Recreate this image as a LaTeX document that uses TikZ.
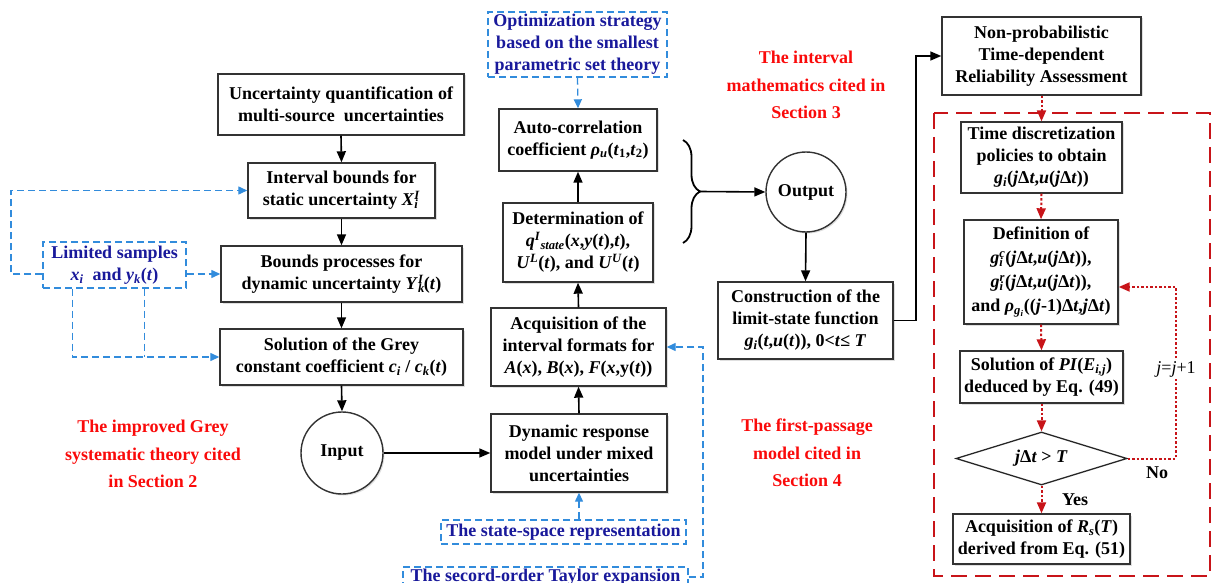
\documentclass[tikz,border=0pt]{standalone}
\usepackage{fontspec}
\setmainfont{Liberation Serif}
\usetikzlibrary{arrows.meta,shapes.geometric,decorations.pathreplacing,shadows,calc}
\definecolor{navy}{RGB}{25,25,155}
\definecolor{lblue}{RGB}{50,140,220}
\definecolor{rtext}{RGB}{250,10,10}
\definecolor{dred}{RGB}{200,20,25}
\newcommand{\iv}[1]{\textit{#1}}
\newcommand{\sbsp}[3]{\textit{#1}\rlap{\textsubscript{\textit{#2}}}\textsuperscript{\textit{#3}}}
\begin{document}
\begin{tikzpicture}[x=1pt,y=-1pt,
  every node/.style={font=\fontsize{18}{22}\selectfont\bfseries, align=center, inner sep=0pt},
  box/.style={draw=black!80, line width=1.4pt, fill=white,
    drop shadow={shadow xshift=1.5pt,shadow yshift=-1.5pt,opacity=0.25}},
  circ/.style={box, circle},
  bluebox/.style={draw=lblue, line width=1.3pt, dash pattern=on 7pt off 4pt, text=navy, fill=white},
  redlabel/.style={text=rtext, font=\fontsize{18}{27.5}\selectfont\bfseries},
  blk/.style={draw=black, line width=1.6pt, -{Triangle[length=11pt,width=9pt]}},
  bluearr/.style={draw=lblue, line width=1.3pt, dash pattern=on 7pt off 4pt, -{Triangle[length=9pt,width=8pt]}},
  bluedash/.style={draw=lblue, line width=1.3pt, dash pattern=on 7pt off 4pt},
  reddot/.style={draw=dred, line width=2pt, dash pattern=on 2.5pt off 2pt, -{Triangle[length=11pt,width=9pt]}},
  framebox/.style={draw=dred, line width=2.2pt, dash pattern=on 16pt off 8pt}
]
\useasboundingbox (0,0) rectangle (1211,583);

% red dashed frame
\draw[framebox] (934,113) rectangle (1210,576);

% left column
\node[box, minimum width=246, minimum height=61] (b1) at (341,104.5)
  {Uncertainty quantification of\\multi-source\ \ uncertainties};
\node[box, minimum width=187, minimum height=55] (b2) at (341.5,190.5)
  {Interval bounds for\\static uncertainty \sbsp{X}{i}{I}};
\node[box, minimum width=241, minimum height=56] (b3) at (341.5,274)
  {Bounds processes for\\dynamic uncertainty \sbsp{Y}{k}{I}(\iv{t})};
\node[box, minimum width=243, minimum height=56] (b4) at (341.5,357)
  {Solution of the Grey\\constant coefficient \iv{c}\textsubscript{\iv{i}} / \iv{c}\textsubscript{\iv{k}}(\iv{t})};
\node[circ, minimum size=82] (input) at (342,453) {Input};
\node[bluebox, minimum width=143, minimum height=46] (lim) at (114.5,265)
  {Limited samples\\\iv{x}\textsubscript{\iv{i}}\ \ and \iv{y}\textsubscript{\iv{k}}(\iv{t})};

% middle column
\node[bluebox, minimum width=179, minimum height=65] (opt) at (577.5,44.5)
  {Optimization strategy\\based on the smallest\\parametric set theory};
\node[box, minimum width=158, minimum height=62] (auto) at (578,140)
  {Auto-correlation\\coefficient \iv{ρ}\textsubscript{\iv{u}}(\iv{t}\textsubscript{1},\iv{t}\textsubscript{2})};
\node[box, minimum width=150, minimum height=79] (det) at (578,242.5)
  {Determination of\\\iv{q}\textsuperscript{\iv{I}}\textsubscript{\iv{state}}(\iv{x},\iv{y}(\iv{t}),\iv{t}),\\\iv{U}\textsuperscript{\iv{L}}(\iv{t}), and \iv{U}\textsuperscript{\iv{U}}(\iv{t})};
\node[box, minimum width=175, minimum height=78] (acq) at (578.5,347)
  {Acquisition of the\\interval formats for\\\iv{A}(\iv{x}), \iv{B}(\iv{x}), \iv{F}(\iv{x},y(\iv{t}))};
\node[box, minimum width=176, minimum height=78] (dyn) at (579,453)
  {Dynamic response\\model under mixed\\uncertainties};
\node[bluebox, minimum width=245, minimum height=24] (ssr) at (563.5,532)
  {The state-space representation};
\node[bluebox, minimum width=285, minimum height=20] (tay) at (545.5,577)
  {The secord-order Taylor expansion};

% brace and output
\draw[line width=1.8pt, decorate, decoration={brace, amplitude=17pt}] (683,140) -- (683,243);
\coordinate (btip) at (700,191.5);
\node[circ, minimum size=80] (out) at (806,192) {Output};
\node[box, minimum width=175, minimum height=77] (con) at (805.5,320.5)
  {Construction of the\\limit-state function\\\iv{g}\textsubscript{\iv{i}}(\iv{t},\iv{u}(\iv{t})), 0<\iv{t}≤ \iv{T}};

% right column
\node[box, minimum width=199, minimum height=78] (np) at (1041.5,56)
  {Non-probabilistic\\Time-dependent\\Reliability Assessment};
\node[box, minimum width=161, minimum height=71] (td) at (1041.5,157.5)
  {Time discretization\\policies to obtain\\\iv{g}\textsubscript{\iv{i}}(\iv{j}Δ\iv{t},\iv{u}(\iv{j}Δ\iv{t}))};
\node[box, minimum width=154, minimum height=104, font=\fontsize{18}{24}\selectfont\bfseries] (def) at (1041,272)
  {Definition of\\\sbsp{g}{i}{c}(\iv{j}Δ\iv{t},\iv{u}(\iv{j}Δ\iv{t})),\\\sbsp{g}{i}{r}(\iv{j}Δ\iv{t},\iv{u}(\iv{j}Δ\iv{t})),\\and \iv{ρ}\textsubscript{\iv{g}\textsubscript{\iv{i}}}((\iv{j}-1)Δ\iv{t},\iv{j}Δ\iv{t})};
\node[box, minimum width=163, minimum height=52] (sol) at (1041.5,377)
  {Solution of \iv{PI}(\iv{E}\textsubscript{\iv{i,j}})\\deduced by Eq. (49)};
\node[draw=black!85, line width=1.3pt, fill=white, diamond, aspect=3.2,
  minimum width=171, minimum height=53] (dia) at (1041.5,458.5) {\iv{j}Δ\iv{t} > \iv{T}};
\node[box, minimum width=177, minimum height=50] (acqR) at (1041.5,539)
  {Acquisition of \iv{R}\textsubscript{\iv{s}}(\iv{T})\\derived from Eq. (51)};

% red labels
\node[redlabel] (lab2) at (153,454) {The improved Grey\\systematic theory cited\\in Section 2};
\node[redlabel] (lab3) at (806,85) {The interval\\mathematics cited in\\Section 3};
\node[redlabel] (lab4) at (807,453) {The first-passage\\model cited in\\Section 4};

% black connectors
\draw[blk] (b1.south) -- (b2.north);
\draw[blk] (b2.south) -- (b3.north);
\draw[blk] (b3.south) -- (b4.north);
\draw[blk] (b4.south) -- (input.north);
\draw[blk] (input.east) -- (dyn.west);
\draw[blk] (dyn.north) -- (acq.south);
\draw[blk] (acq.north) -- (det.south);
\draw[blk] (det.north) -- (auto.south);
\draw[blk] (btip) -- (out.west);
\draw[blk] (out.south) -- (con.north);
\draw[blk] (con.east) -- (916,320.5) |- (np.west);

% blue connectors
\draw[bluearr] (lim.west |- b3.west) -- (11,274) |- (b2.west);
\draw[bluearr] (lim.east |- b3.west) -- (b3.west);
\coordinate (l1) at ($(lim.south west)!0.21!(lim.south east)$);
\coordinate (l2) at ($(lim.south west)!0.706!(lim.south east)$);
\draw[bluearr] (l1) |- (b4.west);
\draw[bluedash] (l2) -- (l2 |- b4.west);
\draw[bluearr] (opt.south) -- (auto.north);
\draw[bluearr] (ssr.north -| dyn.south) -- (dyn.south);
\draw[bluearr] (tay.east) -- (703,577) |- (acq.east);

% red dotted connectors
\draw[reddot] (np.south) -- (td.north);
\draw[reddot] (td.south) -- (def.north);
\draw[reddot] (def.south) -- (sol.north);
\draw[reddot] (sol.south) -- (dia.north);
\draw[reddot] (dia.south) -- (acqR.north);
\draw[reddot] (dia.east) -- (1176,458.5) -- (1176,287) -- (def.east |- 0,287);
\node[fill=white, inner sep=2pt, font=\fontsize{18}{22}\selectfont] (jj) at (1176,369) {\iv{j}=\iv{j}+1};
\node (yes) at (1075,500) {Yes};
\node (no) at (1157,473) {No};
\end{tikzpicture}
\end{document}
